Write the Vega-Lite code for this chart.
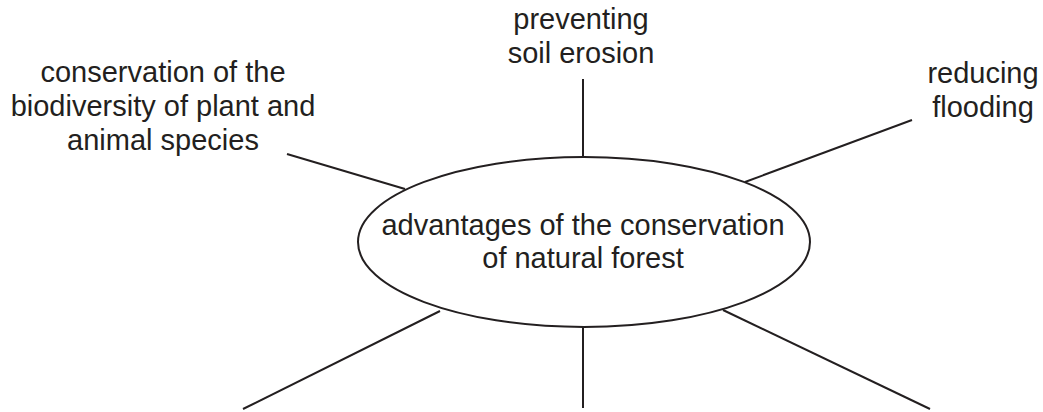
{
  "$schema": "https://vega.github.io/schema/vega-lite/v6.json",
  "width": 1043,
  "height": 412,
  "padding": 0,
  "autosize": {"type": "fit", "contains": "padding"},
  "background": "white",
  "config": {"view": {"stroke": null}},
  "datasets": {
    "lines": [
      {"id": "top", "x1": 583, "y1": 79, "x2": 583, "y2": 157},
      {"id": "upper-left", "x1": 287, "y1": 154, "x2": 405, "y2": 189},
      {"id": "upper-right", "x1": 745, "y1": 182, "x2": 912, "y2": 120},
      {"id": "lower-left", "x1": 440, "y1": 311, "x2": 243, "y2": 409},
      {"id": "bottom", "x1": 583, "y1": 327, "x2": 583, "y2": 408},
      {"id": "lower-right", "x1": 723, "y1": 310, "x2": 930, "y2": 409}
    ],
    "hub": [
      {"x": 584, "y": 242}
    ],
    "labels": [
      {"text": "preventing", "x": 581, "y": 29},
      {"text": "soil erosion", "x": 581, "y": 63},
      {"text": "conservation of the", "x": 163, "y": 82},
      {"text": "biodiversity of plant and", "x": 163, "y": 116},
      {"text": "animal species", "x": 163, "y": 150},
      {"text": "reducing", "x": 983, "y": 83},
      {"text": "flooding", "x": 983, "y": 117},
      {"text": "advantages of the conservation", "x": 583, "y": 235},
      {"text": "of natural forest", "x": 583, "y": 268}
    ]
  },
  "layer": [
    {
      "data": {"name": "lines"},
      "mark": {"type": "rule", "color": "#231f20", "strokeWidth": 2},
      "encoding": {
        "x": {"field": "x1", "type": "quantitative", "scale": {"domain": [0, 1043], "nice": false, "zero": false}, "axis": null},
        "y": {"field": "y1", "type": "quantitative", "scale": {"domain": [0, 412], "nice": false, "zero": false, "reverse": true}, "axis": null},
        "x2": {"field": "x2"},
        "y2": {"field": "y2"}
      }
    },
    {
      "data": {"name": "hub"},
      "mark": {
        "type": "point",
        "shape": "M-1,0A1,0.376,0,1,0,1,0A1,0.376,0,1,0,-1,0Z",
        "size": 204304,
        "filled": false,
        "fill": "transparent",
        "stroke": "#231f20",
        "strokeWidth": 2,
        "opacity": 1
      },
      "encoding": {
        "x": {"field": "x", "type": "quantitative", "scale": {"domain": [0, 1043], "nice": false, "zero": false}, "axis": null},
        "y": {"field": "y", "type": "quantitative", "scale": {"domain": [0, 412], "nice": false, "zero": false, "reverse": true}, "axis": null}
      }
    },
    {
      "data": {"name": "labels"},
      "mark": {
        "type": "text",
        "font": "Liberation Sans",
        "fontSize": 29,
        "align": "center",
        "baseline": "alphabetic",
        "color": "#231f20"
      },
      "encoding": {
        "x": {"field": "x", "type": "quantitative", "scale": {"domain": [0, 1043], "nice": false, "zero": false}, "axis": null},
        "y": {"field": "y", "type": "quantitative", "scale": {"domain": [0, 412], "nice": false, "zero": false, "reverse": true}, "axis": null},
        "text": {"field": "text", "type": "nominal"}
      }
    }
  ]
}
